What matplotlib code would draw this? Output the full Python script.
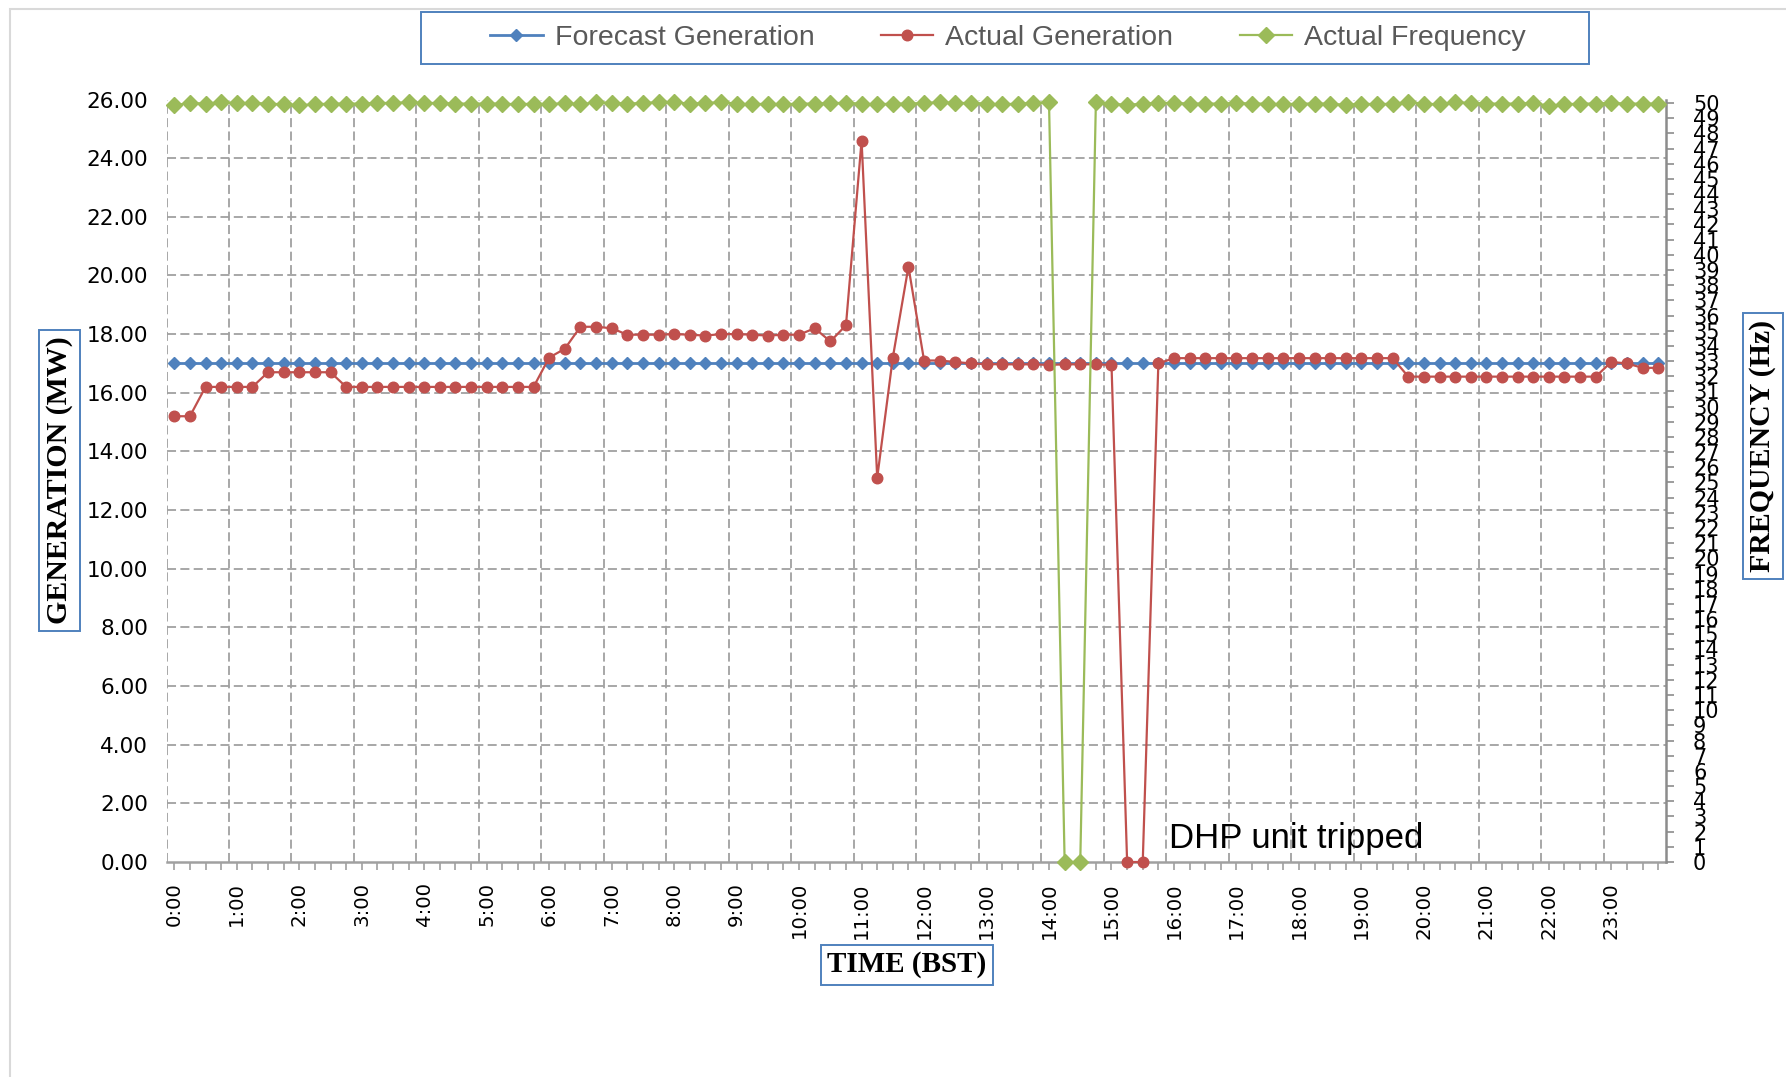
import matplotlib
matplotlib.use("Agg")
import matplotlib.pyplot as plt
from matplotlib.patches import Rectangle
from matplotlib.ticker import MultipleLocator, FixedLocator

plt.rcParams["font.family"] = ["DejaVu Sans"]

# ---------------- data ----------------
hour_labels = ["0:00", "1:00", "2:00", "3:00", "4:00", "5:00", "6:00", "7:00",
               "8:00", "9:00", "10:00", "11:00", "12:00", "13:00", "14:00", "15:00",
               "16:00", "17:00", "18:00", "19:00", "20:00", "21:00", "22:00", "23:00"]
n_slots = 96  # 15-minute slots 0:00 .. 23:45

forecast_gen = [17.0] * 96

actual_gen = [15.2, 15.2,
              16.2, 16.2, 16.2, 16.2,
              16.7, 16.7, 16.7, 16.7, 16.7,
              16.2, 16.2, 16.2, 16.2, 16.2, 16.2, 16.2, 16.2, 16.2, 16.2, 16.2, 16.2, 16.2,
              17.2, 17.5, 18.25, 18.25, 18.2,
              17.98, 17.98, 17.98, 18.0, 17.98, 17.95, 18.0, 18.0, 17.98, 17.95, 17.98, 17.98,
              18.2, 17.75, 18.3, 24.6, 13.1, 17.2, 20.3, 17.1, 17.1, 17.05,
              17.0, 16.98, 16.97, 16.97, 16.97, 16.95, 16.97, 16.97, 16.97, 16.95,
              0.0, 0.0,
              17.0,
              17.18, 17.18, 17.18, 17.18, 17.18, 17.18, 17.18, 17.18, 17.18, 17.18, 17.18, 17.18,
              17.18, 17.18, 17.18,
              16.55, 16.55, 16.55, 16.55, 16.55, 16.55, 16.55, 16.55, 16.55, 16.55, 16.55, 16.55,
              16.55,
              17.05, 17.0, 16.85, 16.85]

actual_freq = [49.85, 50.0, 49.96, 50.05, 50.0, 50.0, 49.96, 49.91, 49.85, 49.91,
               49.96, 49.96, 49.96, 50.0, 50.0, 50.05, 50.0, 50.0, 49.96, 49.96,
               49.96, 49.96, 49.91, 49.96, 49.91,
               50.0, 49.91, 50.05, 50.0, 49.96, 50.0, 50.05, 50.05, 49.96, 50.0,
               50.05, 49.96, 49.91, 49.96, 49.91, 49.96, 49.96, 50.0, 50.0, 49.96,
               49.91, 49.96, 49.96, 50.0, 50.05, 50.0,
               50.0, 49.96, 49.91, 49.96, 50.0, 50.05,
               0.0, 0.0,
               50.05, 49.96, 49.87, 49.96, 50.0, 50.0, 49.96, 49.96, 49.96, 50.0,
               49.96, 49.96, 49.91, 49.96, 49.96, 49.96,
               49.87, 49.96, 49.91, 49.96, 50.05, 49.96, 49.91, 50.05, 50.0, 49.96,
               49.96, 49.96, 50.0, 49.83, 49.91, 49.96, 49.96, 50.0, 49.96, 49.96, 49.96]

left_ticks = [0, 2, 4, 6, 8, 10, 12, 14, 16, 18, 20, 22, 24, 26]
right_ticks = list(range(0, 51))

# ---------------- style ----------------
W, H = 1786, 1077
BLUE = "#4F81BD"
RED = "#C0504D"
GREEN = "#9BBB59"
GRID = "#A0A0A0"

fig = plt.figure(figsize=(W / 100, H / 100), dpi=100)

def fx(px):
    return px / W

def fy(py):
    return 1 - py / H

ax = fig.add_axes([fx(166.5), fy(862), fx(1666) - fx(166.5), fy(99.5) - fy(862)])
ax2 = ax.twinx()

x = list(range(n_slots))

l1, = ax.plot(x, forecast_gen, color=BLUE, lw=2.0, marker="D", ms=6.0,
              mec=BLUE, mfc=BLUE, clip_on=False, zorder=3)
l2, = ax.plot(x, actual_gen, color=RED, lw=1.6, marker="o", ms=7.6,
              mec=RED, mfc=RED, clip_on=False, zorder=4)
l3, = ax2.plot(x, actual_freq, color=GREEN, lw=1.6, marker="D", ms=8.3,
               mec=GREEN, mfc=GREEN, clip_on=False, zorder=5)

ax.set_xlim(-0.5, n_slots - 0.5)
ax.set_ylim(0, 26)
ax2.set_ylim(0, 50.23)

# dashed grid
dash = (0, (5, 2.4))
for v in left_ticks[1:]:
    ax.axhline(v, color=GRID, lw=1.3, ls=dash, zorder=1)
vgrid = [-0.5] + [3.5 + 4 * k for k in range(23)]
for v in vgrid:
    ax.axvline(v, color=GRID, lw=1.3, ls=dash, zorder=1)

# spines
for s in ["top", "left", "right"]:
    ax.spines[s].set_visible(False)
ax.spines["bottom"].set_color("#A0A0A0")
ax.spines["bottom"].set_linewidth(1.8)
for s in ["top", "left", "bottom"]:
    ax2.spines[s].set_visible(False)
ax2.spines["right"].set_color("#8C8C8C")
ax2.spines["right"].set_linewidth(1.8)

# left axis ticks
ax.set_yticks(left_ticks)
ax.set_yticklabels([f"{v:.2f}" for v in left_ticks])
ax.tick_params(axis="y", which="both", length=0, pad=13.3, labelsize=15.5,
               labelcolor="black")

# x axis ticks
ax.xaxis.set_major_locator(FixedLocator([4 * k for k in range(24)]))
ax.xaxis.set_minor_locator(MultipleLocator(1))
ax.set_xticklabels(hour_labels)
ax.tick_params(axis="x", which="both", direction="out", length=6, width=1.2,
               color="#A0A0A0", pad=8.5, labelsize=14.2, labelrotation=90)

# right axis ticks
ax2.set_yticks(right_ticks)
ax2.set_yticklabels([str(v) for v in right_ticks])
ax2.tick_params(axis="y", direction="out", length=6, width=1.2, color="#8C8C8C",
                pad=13.5, labelsize=15)

# boxed axis titles
box = dict(boxstyle="square,pad=0.22", fc="white", ec=BLUE, lw=1.4)
fig.text(fx(59.5), fy(480.5), "GENERATION (MW)", rotation=90, ha="center", va="center",
         fontsize=21.5, fontweight="bold", fontfamily="Liberation Serif", bbox=box)
fig.text(fx(907), fy(965), "TIME (BST)", ha="center", va="center",
         fontsize=21, fontweight="bold", fontfamily="Liberation Serif", bbox=box)
fig.text(fx(1763), fy(446), "FREQUENCY (Hz)", rotation=90, ha="center", va="center",
         fontsize=21.5, fontweight="bold", fontfamily="Liberation Serif", bbox=box)

# annotation
fig.text(fx(1169), fy(848), "DHP unit tripped", ha="left", va="baseline",
         fontsize=25, fontfamily="Liberation Sans", color="black")

# legend
leg = fig.legend([l1, l2, l3], ["Forecast Generation", "Actual Generation", "Actual Frequency"],
                 loc="center", bbox_to_anchor=(fx(1008), fy(38)), ncol=3, frameon=False,
                 prop={"family": "Liberation Sans", "size": 20.5},
                 handlelength=1.86, handletextpad=0.42, columnspacing=2.32,
                 labelcolor="#595959")
fig.patches.append(Rectangle((fx(421), fy(64)), fx(1589) - fx(421), fy(12) - fy(64),
                             transform=fig.transFigure, fill=False, ec=BLUE, lw=1.4))

# outer chart-area border (top & left visible)
fig.patches.append(Rectangle((fx(10), -0.5), 2.0, fy(9) + 0.5,
                             transform=fig.transFigure, fill=False, ec="#D9D9D9", lw=1.5))

fig.savefig("out.png", dpi=100, facecolor="white")
